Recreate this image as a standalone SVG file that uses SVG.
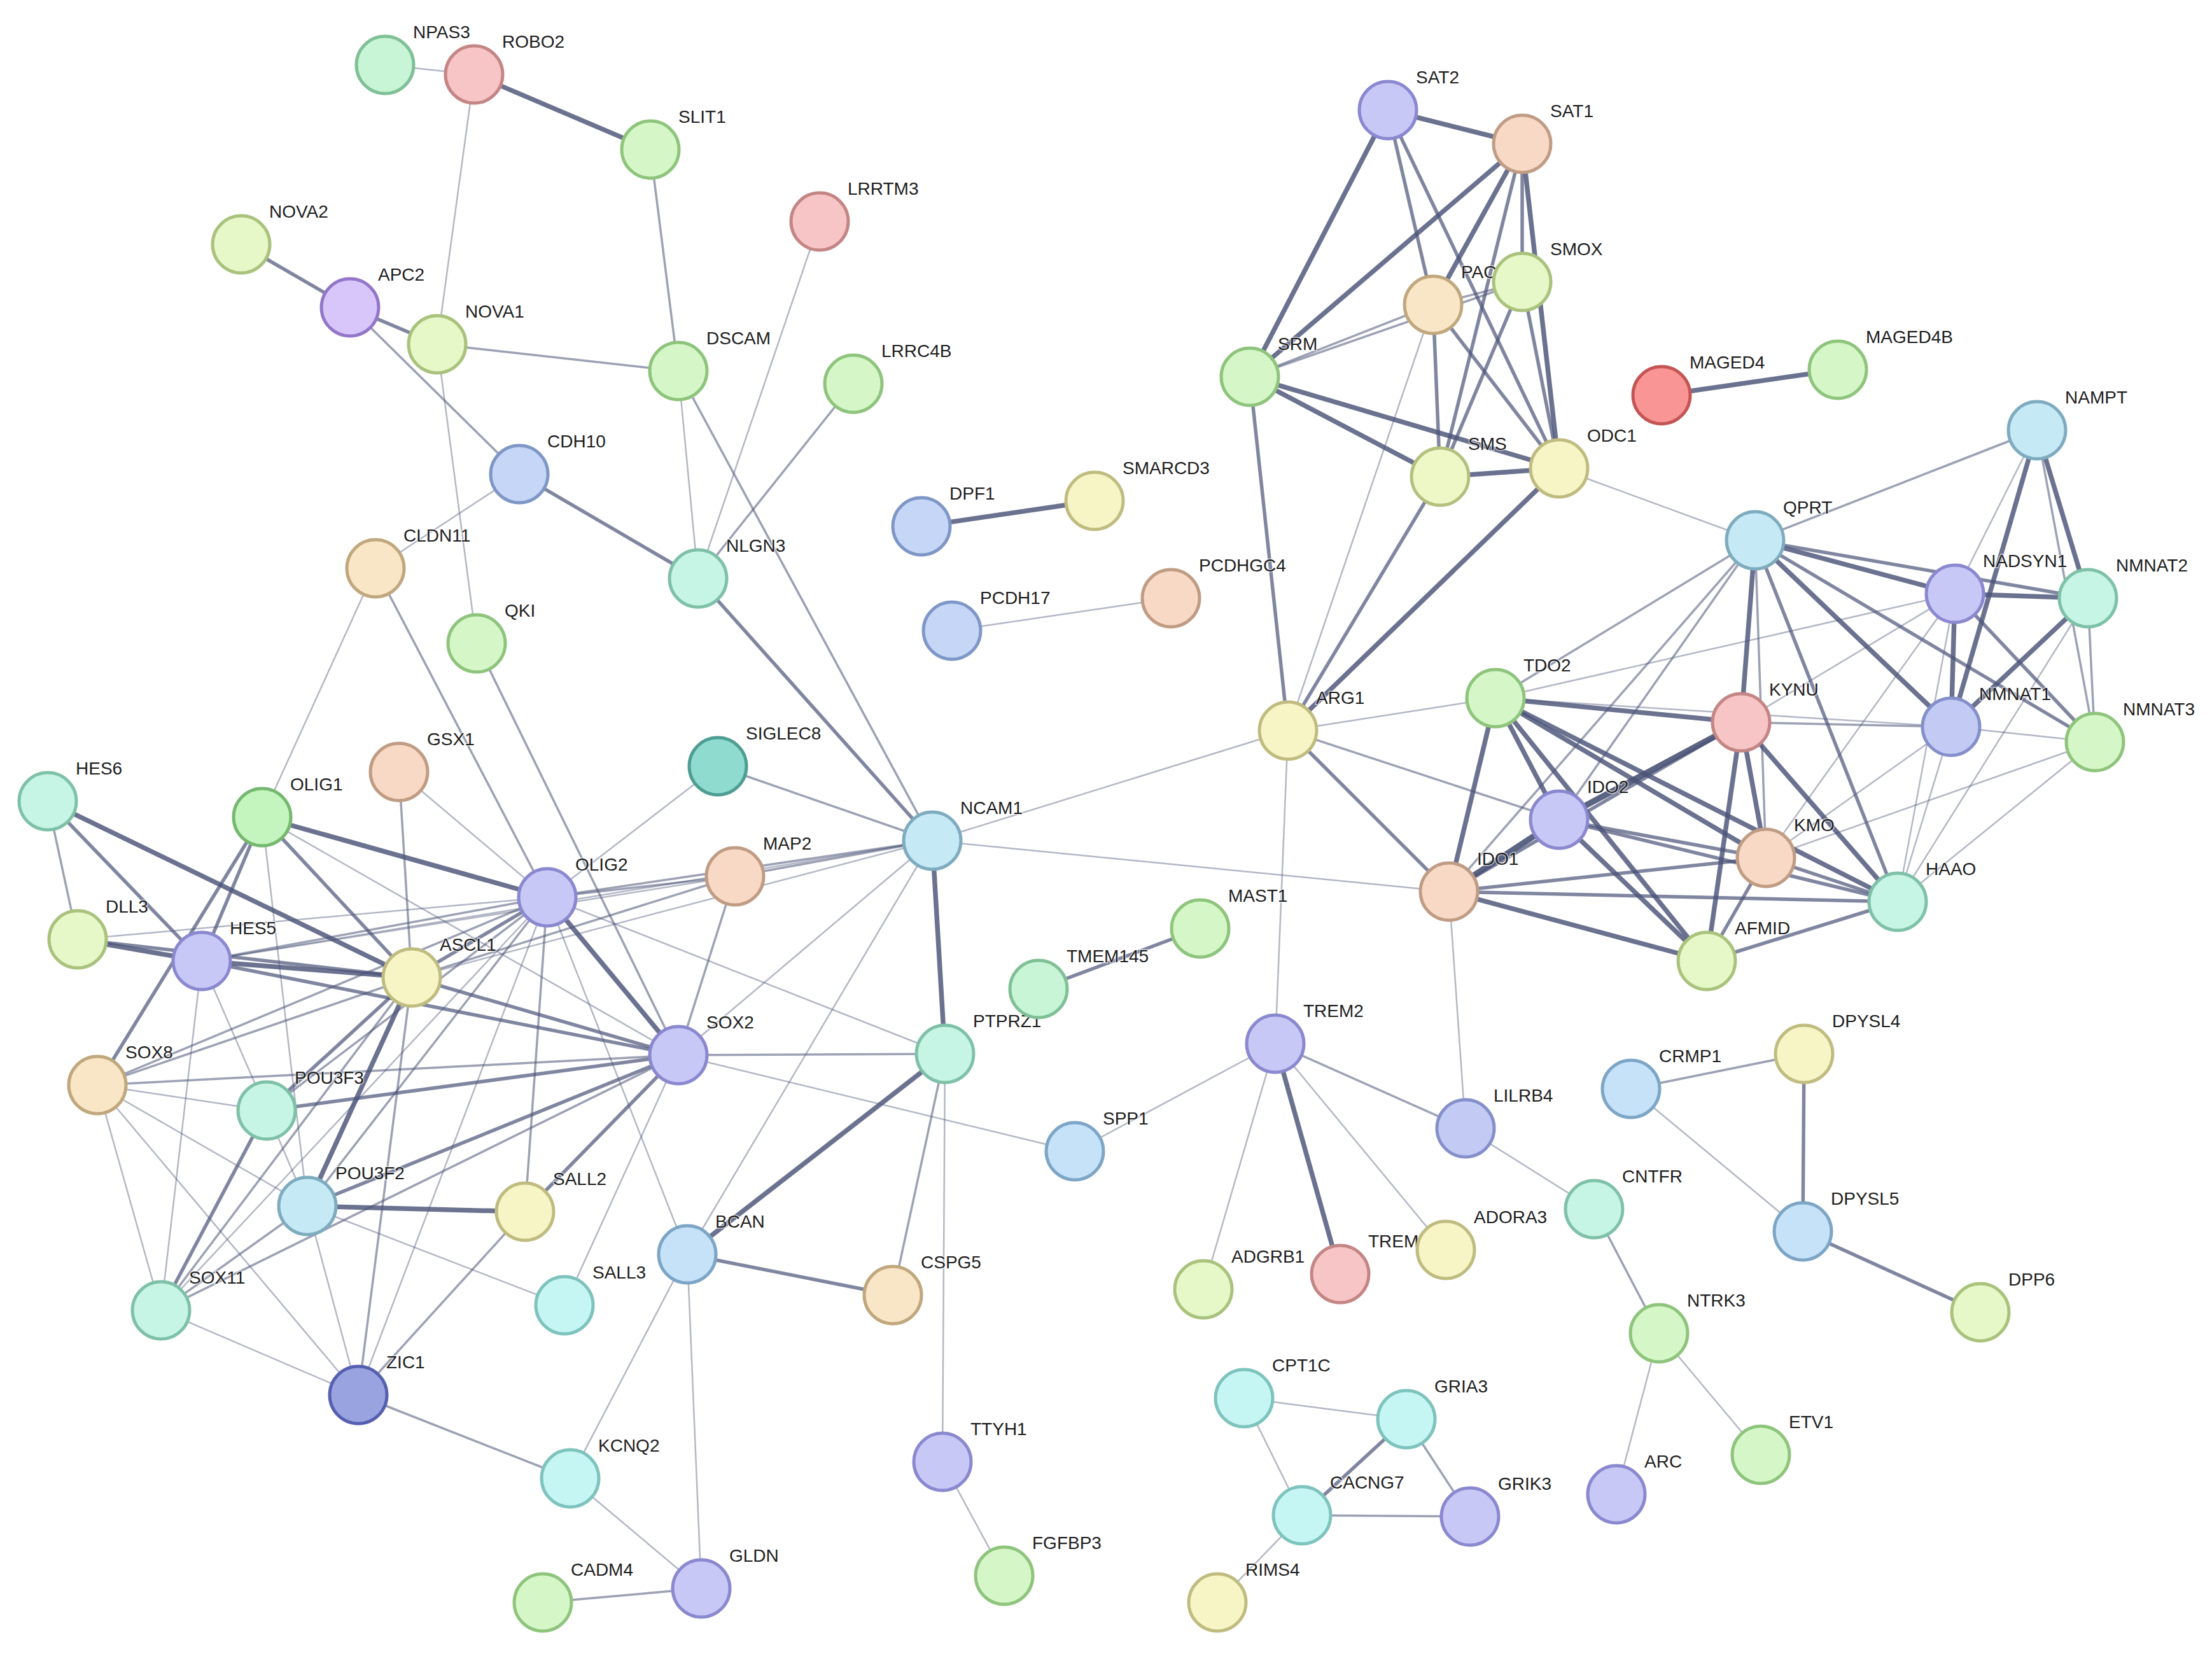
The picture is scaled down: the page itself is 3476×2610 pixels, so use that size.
<svg xmlns="http://www.w3.org/2000/svg" width="3476" height="2610" viewBox="0 0 3476 2610">
<style>
line{stroke:#4a5377;stroke-linecap:round}
.e1{stroke-width:2.5;stroke-opacity:.42}
.e2{stroke-width:3.5;stroke-opacity:.55}
.e3{stroke-width:5.5;stroke-opacity:.7}
.e4{stroke-width:7.5;stroke-opacity:.82}
.e5{stroke-width:9.5;stroke-opacity:.9}
circle{stroke-width:5}
text{font-family:"Liberation Sans",Arial,sans-serif;font-size:28px;fill:#1e1e1e;stroke:#fff;stroke-width:3;stroke-opacity:.6;paint-order:stroke}
.mint{fill:#c7f5d6;stroke:#80c096}
.pink{fill:#f7c5c5;stroke:#c48585}
.lg{fill:#d5f7c8;stroke:#8ec47c}
.og{fill:#c4f5be;stroke:#76b870}
.yg{fill:#e6f7c8;stroke:#a9c27c}
.purple{fill:#d8c6fb;stroke:#9476c9}
.peri{fill:#c8c8f7;stroke:#8a88cf}
.blue{fill:#c6d6f7;stroke:#7f97c6}
.lav{fill:#c3cbf5;stroke:#8590cb}
.peach{fill:#f8e6c6;stroke:#c0a77d}
.salmon{fill:#f8d9c6;stroke:#c09c84}
.teal{fill:#90dbd0;stroke:#4e9d93}
.cyan{fill:#c6e9f6;stroke:#7eacbe}
.aqua{fill:#c6f5e5;stroke:#7fc1a8}
.pcyan{fill:#c6f6f3;stroke:#7ec3bd}
.yellow{fill:#f7f5c6;stroke:#c0bc80}
.sms{fill:#eef7c6;stroke:#b4c07e}
.dblue{fill:#99a3df;stroke:#5660b0}
.lblue{fill:#c6e2f8;stroke:#7da5c6}
.red{fill:#fa9595;stroke:#c45555}
</style>
<rect width="3476" height="2610" fill="#fff"/>
<g id="edges">
<line class="e1" x1="605" y1="102" x2="745" y2="117"/>
<line class="e4" x1="745" y1="117" x2="1022" y2="235"/>
<line class="e1" x1="745" y1="117" x2="687" y2="541"/>
<line class="e2" x1="1022" y1="235" x2="1066" y2="583"/>
<line class="e3" x1="379" y1="384" x2="550" y2="483"/>
<line class="e3" x1="550" y1="483" x2="687" y2="541"/>
<line class="e2" x1="550" y1="483" x2="816" y2="745"/>
<line class="e2" x1="687" y1="541" x2="1066" y2="583"/>
<line class="e1" x1="687" y1="541" x2="749" y2="1011"/>
<line class="e1" x1="1288" y1="348" x2="1097" y2="909"/>
<line class="e1" x1="1066" y1="583" x2="1097" y2="909"/>
<line class="e2" x1="1066" y1="583" x2="1465" y2="1321"/>
<line class="e2" x1="1341" y1="603" x2="1097" y2="909"/>
<line class="e3" x1="816" y1="745" x2="1097" y2="909"/>
<line class="e1" x1="816" y1="745" x2="590" y2="893"/>
<line class="e3" x1="1097" y1="909" x2="1465" y2="1321"/>
<line class="e1" x1="590" y1="893" x2="412" y2="1284"/>
<line class="e2" x1="590" y1="893" x2="860" y2="1410"/>
<line class="e2" x1="749" y1="1011" x2="1066" y2="1658"/>
<line class="e2" x1="75" y1="1259" x2="122" y2="1476"/>
<line class="e3" x1="75" y1="1259" x2="317" y2="1510"/>
<line class="e4" x1="75" y1="1259" x2="647" y2="1536"/>
<line class="e4" x1="412" y1="1284" x2="860" y2="1410"/>
<line class="e3" x1="412" y1="1284" x2="647" y2="1536"/>
<line class="e3" x1="412" y1="1284" x2="317" y2="1510"/>
<line class="e3" x1="412" y1="1284" x2="153" y2="1705"/>
<line class="e1" x1="412" y1="1284" x2="483" y2="1895"/>
<line class="e1" x1="412" y1="1284" x2="1066" y2="1658"/>
<line class="e2" x1="627" y1="1213" x2="647" y2="1536"/>
<line class="e1" x1="627" y1="1213" x2="860" y2="1410"/>
<line class="e1" x1="1128" y1="1204" x2="860" y2="1410"/>
<line class="e2" x1="1128" y1="1204" x2="1465" y2="1321"/>
<line class="e2" x1="860" y1="1410" x2="1155" y2="1377"/>
<line class="e2" x1="860" y1="1410" x2="1465" y2="1321"/>
<line class="e4" x1="860" y1="1410" x2="1066" y2="1658"/>
<line class="e3" x1="860" y1="1410" x2="647" y2="1536"/>
<line class="e2" x1="860" y1="1410" x2="317" y2="1510"/>
<line class="e1" x1="860" y1="1410" x2="122" y2="1476"/>
<line class="e2" x1="860" y1="1410" x2="153" y2="1705"/>
<line class="e2" x1="860" y1="1410" x2="419" y2="1745"/>
<line class="e2" x1="860" y1="1410" x2="483" y2="1895"/>
<line class="e2" x1="860" y1="1410" x2="825" y2="1904"/>
<line class="e1" x1="860" y1="1410" x2="253" y2="2059"/>
<line class="e1" x1="860" y1="1410" x2="563" y2="2192"/>
<line class="e1" x1="860" y1="1410" x2="1080" y2="1971"/>
<line class="e1" x1="860" y1="1410" x2="1485" y2="1656"/>
<line class="e4" x1="122" y1="1476" x2="317" y2="1510"/>
<line class="e3" x1="122" y1="1476" x2="647" y2="1536"/>
<line class="e4" x1="317" y1="1510" x2="647" y2="1536"/>
<line class="e3" x1="317" y1="1510" x2="1066" y2="1658"/>
<line class="e1" x1="317" y1="1510" x2="419" y2="1745"/>
<line class="e1" x1="317" y1="1510" x2="253" y2="2059"/>
<line class="e1" x1="317" y1="1510" x2="1155" y2="1377"/>
<line class="e1" x1="317" y1="1510" x2="1465" y2="1321"/>
<line class="e3" x1="647" y1="1536" x2="1066" y2="1658"/>
<line class="e2" x1="647" y1="1536" x2="1155" y2="1377"/>
<line class="e1" x1="647" y1="1536" x2="1465" y2="1321"/>
<line class="e2" x1="647" y1="1536" x2="153" y2="1705"/>
<line class="e3" x1="647" y1="1536" x2="419" y2="1745"/>
<line class="e4" x1="647" y1="1536" x2="483" y2="1895"/>
<line class="e2" x1="647" y1="1536" x2="253" y2="2059"/>
<line class="e2" x1="647" y1="1536" x2="563" y2="2192"/>
<line class="e2" x1="1155" y1="1377" x2="1066" y2="1658"/>
<line class="e2" x1="1155" y1="1377" x2="1465" y2="1321"/>
<line class="e1" x1="1066" y1="1658" x2="1465" y2="1321"/>
<line class="e2" x1="1066" y1="1658" x2="1485" y2="1656"/>
<line class="e1" x1="1066" y1="1658" x2="1689" y2="1809"/>
<line class="e2" x1="1066" y1="1658" x2="153" y2="1705"/>
<line class="e3" x1="1066" y1="1658" x2="419" y2="1745"/>
<line class="e3" x1="1066" y1="1658" x2="483" y2="1895"/>
<line class="e3" x1="1066" y1="1658" x2="825" y2="1904"/>
<line class="e2" x1="1066" y1="1658" x2="253" y2="2059"/>
<line class="e1" x1="1066" y1="1658" x2="887" y2="2051"/>
<line class="e1" x1="153" y1="1705" x2="419" y2="1745"/>
<line class="e1" x1="153" y1="1705" x2="253" y2="2059"/>
<line class="e1" x1="153" y1="1705" x2="483" y2="1895"/>
<line class="e1" x1="153" y1="1705" x2="563" y2="2192"/>
<line class="e3" x1="419" y1="1745" x2="253" y2="2059"/>
<line class="e1" x1="419" y1="1745" x2="483" y2="1895"/>
<line class="e4" x1="483" y1="1895" x2="825" y2="1904"/>
<line class="e2" x1="483" y1="1895" x2="253" y2="2059"/>
<line class="e1" x1="483" y1="1895" x2="887" y2="2051"/>
<line class="e1" x1="483" y1="1895" x2="563" y2="2192"/>
<line class="e2" x1="825" y1="1904" x2="563" y2="2192"/>
<line class="e1" x1="253" y1="2059" x2="563" y2="2192"/>
<line class="e2" x1="563" y1="2192" x2="896" y2="2323"/>
<line class="e4" x1="1465" y1="1321" x2="1485" y2="1656"/>
<line class="e1" x1="1465" y1="1321" x2="2024" y2="1148"/>
<line class="e1" x1="1465" y1="1321" x2="2277" y2="1401"/>
<line class="e1" x1="1465" y1="1321" x2="1080" y2="1971"/>
<line class="e4" x1="1485" y1="1656" x2="1080" y2="1971"/>
<line class="e2" x1="1485" y1="1656" x2="1403" y2="2035"/>
<line class="e1" x1="1485" y1="1656" x2="1481" y2="2297"/>
<line class="e3" x1="1080" y1="1971" x2="1403" y2="2035"/>
<line class="e1" x1="1080" y1="1971" x2="896" y2="2323"/>
<line class="e1" x1="1080" y1="1971" x2="1102" y2="2496"/>
<line class="e1" x1="896" y1="2323" x2="1102" y2="2496"/>
<line class="e2" x1="853" y1="2518" x2="1102" y2="2496"/>
<line class="e1" x1="1481" y1="2297" x2="1578" y2="2476"/>
<line class="e3" x1="1632" y1="1554" x2="1886" y2="1459"/>
<line class="e4" x1="1448" y1="827" x2="1720" y2="787"/>
<line class="e1" x1="1496" y1="991" x2="1840" y2="940"/>
<line class="e4" x1="2611" y1="621" x2="2888" y2="581"/>
<line class="e1" x1="2024" y1="1148" x2="2004" y2="1640"/>
<line class="e1" x1="2024" y1="1148" x2="2350" y2="1097"/>
<line class="e2" x1="2024" y1="1148" x2="2450" y2="1288"/>
<line class="e3" x1="2024" y1="1148" x2="2277" y2="1401"/>
<line class="e3" x1="2024" y1="1148" x2="1964" y2="592"/>
<line class="e1" x1="2024" y1="1148" x2="2252" y2="479"/>
<line class="e3" x1="2024" y1="1148" x2="2263" y2="749"/>
<line class="e4" x1="2024" y1="1148" x2="2450" y2="736"/>
<line class="e1" x1="2277" y1="1401" x2="2303" y2="1773"/>
<line class="e1" x1="2004" y1="1640" x2="1689" y2="1809"/>
<line class="e1" x1="2004" y1="1640" x2="1891" y2="2026"/>
<line class="e4" x1="2004" y1="1640" x2="2106" y2="2002"/>
<line class="e1" x1="2004" y1="1640" x2="2272" y2="1964"/>
<line class="e2" x1="2004" y1="1640" x2="2303" y2="1773"/>
<line class="e1" x1="2303" y1="1773" x2="2505" y2="1900"/>
<line class="e2" x1="2505" y1="1900" x2="2607" y2="2095"/>
<line class="e1" x1="2607" y1="2095" x2="2540" y2="2348"/>
<line class="e1" x1="2607" y1="2095" x2="2767" y2="2286"/>
<line class="e2" x1="2563" y1="1711" x2="2835" y2="1656"/>
<line class="e1" x1="2563" y1="1711" x2="2833" y2="1935"/>
<line class="e3" x1="2835" y1="1656" x2="2833" y2="1935"/>
<line class="e3" x1="2833" y1="1935" x2="3112" y2="2062"/>
<line class="e1" x1="1955" y1="2197" x2="2210" y2="2230"/>
<line class="e1" x1="1955" y1="2197" x2="2046" y2="2381"/>
<line class="e3" x1="2210" y1="2230" x2="2046" y2="2381"/>
<line class="e2" x1="2210" y1="2230" x2="2310" y2="2383"/>
<line class="e2" x1="2046" y1="2381" x2="2310" y2="2383"/>
<line class="e1" x1="2046" y1="2381" x2="1913" y2="2518"/>
<line class="e4" x1="2181" y1="173" x2="2392" y2="226"/>
<line class="e4" x1="2181" y1="173" x2="1964" y2="592"/>
<line class="e3" x1="2181" y1="173" x2="2252" y2="479"/>
<line class="e3" x1="2181" y1="173" x2="2450" y2="736"/>
<line class="e4" x1="2392" y1="226" x2="1964" y2="592"/>
<line class="e4" x1="2392" y1="226" x2="2252" y2="479"/>
<line class="e3" x1="2392" y1="226" x2="2263" y2="749"/>
<line class="e3" x1="2392" y1="226" x2="2392" y2="443"/>
<line class="e4" x1="2392" y1="226" x2="2450" y2="736"/>
<line class="e2" x1="1964" y1="592" x2="2252" y2="479"/>
<line class="e2" x1="1964" y1="592" x2="2392" y2="443"/>
<line class="e4" x1="1964" y1="592" x2="2263" y2="749"/>
<line class="e4" x1="1964" y1="592" x2="2450" y2="736"/>
<line class="e2" x1="2252" y1="479" x2="2392" y2="443"/>
<line class="e3" x1="2252" y1="479" x2="2263" y2="749"/>
<line class="e3" x1="2252" y1="479" x2="2450" y2="736"/>
<line class="e3" x1="2392" y1="443" x2="2263" y2="749"/>
<line class="e3" x1="2392" y1="443" x2="2450" y2="736"/>
<line class="e4" x1="2263" y1="749" x2="2450" y2="736"/>
<line class="e1" x1="2450" y1="736" x2="2758" y2="849"/>
<line class="e2" x1="3201" y1="676" x2="2758" y2="849"/>
<line class="e1" x1="3201" y1="676" x2="3072" y2="933"/>
<line class="e4" x1="3201" y1="676" x2="3066" y2="1142"/>
<line class="e4" x1="3201" y1="676" x2="3281" y2="940"/>
<line class="e2" x1="3201" y1="676" x2="3292" y2="1166"/>
<line class="e4" x1="2758" y1="849" x2="3072" y2="933"/>
<line class="e3" x1="2758" y1="849" x2="3281" y2="940"/>
<line class="e4" x1="2758" y1="849" x2="3066" y2="1142"/>
<line class="e3" x1="2758" y1="849" x2="3292" y2="1166"/>
<line class="e2" x1="2758" y1="849" x2="2350" y2="1097"/>
<line class="e4" x1="2758" y1="849" x2="2736" y2="1135"/>
<line class="e2" x1="2758" y1="849" x2="2450" y2="1288"/>
<line class="e2" x1="2758" y1="849" x2="2277" y2="1401"/>
<line class="e2" x1="2758" y1="849" x2="2775" y2="1348"/>
<line class="e3" x1="2758" y1="849" x2="2982" y2="1417"/>
<line class="e4" x1="3072" y1="933" x2="3281" y2="940"/>
<line class="e4" x1="3072" y1="933" x2="3066" y2="1142"/>
<line class="e3" x1="3072" y1="933" x2="3292" y2="1166"/>
<line class="e1" x1="3072" y1="933" x2="2350" y2="1097"/>
<line class="e1" x1="3072" y1="933" x2="2736" y2="1135"/>
<line class="e1" x1="3072" y1="933" x2="2982" y2="1417"/>
<line class="e1" x1="3072" y1="933" x2="2775" y2="1348"/>
<line class="e4" x1="3281" y1="940" x2="3066" y2="1142"/>
<line class="e1" x1="3281" y1="940" x2="2982" y2="1417"/>
<line class="e2" x1="3281" y1="940" x2="3292" y2="1166"/>
<line class="e1" x1="3066" y1="1142" x2="3292" y2="1166"/>
<line class="e2" x1="3066" y1="1142" x2="2736" y2="1135"/>
<line class="e1" x1="3066" y1="1142" x2="2350" y2="1097"/>
<line class="e1" x1="3066" y1="1142" x2="2982" y2="1417"/>
<line class="e1" x1="3066" y1="1142" x2="2775" y2="1348"/>
<line class="e1" x1="3292" y1="1166" x2="2982" y2="1417"/>
<line class="e1" x1="3292" y1="1166" x2="2775" y2="1348"/>
<line class="e4" x1="2350" y1="1097" x2="2736" y2="1135"/>
<line class="e4" x1="2350" y1="1097" x2="2450" y2="1288"/>
<line class="e4" x1="2350" y1="1097" x2="2277" y2="1401"/>
<line class="e4" x1="2350" y1="1097" x2="2775" y2="1348"/>
<line class="e4" x1="2350" y1="1097" x2="2982" y2="1417"/>
<line class="e4" x1="2350" y1="1097" x2="2682" y2="1510"/>
<line class="e5" x1="2736" y1="1135" x2="2450" y2="1288"/>
<line class="e3" x1="2736" y1="1135" x2="2277" y2="1401"/>
<line class="e4" x1="2736" y1="1135" x2="2775" y2="1348"/>
<line class="e4" x1="2736" y1="1135" x2="2982" y2="1417"/>
<line class="e4" x1="2736" y1="1135" x2="2682" y2="1510"/>
<line class="e5" x1="2450" y1="1288" x2="2277" y2="1401"/>
<line class="e3" x1="2450" y1="1288" x2="2775" y2="1348"/>
<line class="e3" x1="2450" y1="1288" x2="2982" y2="1417"/>
<line class="e4" x1="2450" y1="1288" x2="2682" y2="1510"/>
<line class="e3" x1="2277" y1="1401" x2="2775" y2="1348"/>
<line class="e3" x1="2277" y1="1401" x2="2982" y2="1417"/>
<line class="e4" x1="2277" y1="1401" x2="2682" y2="1510"/>
<line class="e3" x1="2775" y1="1348" x2="2982" y2="1417"/>
<line class="e3" x1="2775" y1="1348" x2="2682" y2="1510"/>
<line class="e3" x1="2982" y1="1417" x2="2682" y2="1510"/>
</g>
<g id="n-NPAS3"><circle class="mint" cx="605" cy="102" r="45"/><text x="649" y="60">NPAS3</text></g>
<g id="n-ROBO2"><circle class="pink" cx="745" cy="117" r="45"/><text x="789" y="75">ROBO2</text></g>
<g id="n-SLIT1"><circle class="lg" cx="1022" cy="235" r="45"/><text x="1066" y="193">SLIT1</text></g>
<g id="n-NOVA2"><circle class="yg" cx="379" cy="384" r="45"/><text x="423" y="342">NOVA2</text></g>
<g id="n-APC2"><circle class="purple" cx="550" cy="483" r="45"/><text x="594" y="441">APC2</text></g>
<g id="n-NOVA1"><circle class="yg" cx="687" cy="541" r="45"/><text x="731" y="499">NOVA1</text></g>
<g id="n-LRRTM3"><circle class="pink" cx="1288" cy="348" r="45"/><text x="1332" y="306">LRRTM3</text></g>
<g id="n-DSCAM"><circle class="lg" cx="1066" cy="583" r="45"/><text x="1110" y="541">DSCAM</text></g>
<g id="n-LRRC4B"><circle class="lg" cx="1341" cy="603" r="45"/><text x="1385" y="561">LRRC4B</text></g>
<g id="n-CDH10"><circle class="blue" cx="816" cy="745" r="45"/><text x="860" y="703">CDH10</text></g>
<g id="n-CLDN11"><circle class="peach" cx="590" cy="893" r="45"/><text x="634" y="851">CLDN11</text></g>
<g id="n-NLGN3"><circle class="aqua" cx="1097" cy="909" r="45"/><text x="1141" y="867">NLGN3</text></g>
<g id="n-QKI"><circle class="lg" cx="749" cy="1011" r="45"/><text x="793" y="969">QKI</text></g>
<g id="n-DPF1"><circle class="blue" cx="1448" cy="827" r="45"/><text x="1492" y="785">DPF1</text></g>
<g id="n-SMARCD3"><circle class="yellow" cx="1720" cy="787" r="45"/><text x="1764" y="745">SMARCD3</text></g>
<g id="n-PCDH17"><circle class="blue" cx="1496" cy="991" r="45"/><text x="1540" y="949">PCDH17</text></g>
<g id="n-PCDHGC4"><circle class="salmon" cx="1840" cy="940" r="45"/><text x="1884" y="898">PCDHGC4</text></g>
<g id="n-SIGLEC8"><circle class="teal" cx="1128" cy="1204" r="45"/><text x="1172" y="1162">SIGLEC8</text></g>
<g id="n-GSX1"><circle class="salmon" cx="627" cy="1213" r="45"/><text x="671" y="1171">GSX1</text></g>
<g id="n-HES6"><circle class="aqua" cx="75" cy="1259" r="45"/><text x="119" y="1217">HES6</text></g>
<g id="n-OLIG1"><circle class="og" cx="412" cy="1284" r="45"/><text x="456" y="1242">OLIG1</text></g>
<g id="n-NCAM1"><circle class="cyan" cx="1465" cy="1321" r="45"/><text x="1509" y="1279">NCAM1</text></g>
<g id="n-MAP2"><circle class="salmon" cx="1155" cy="1377" r="45"/><text x="1199" y="1335">MAP2</text></g>
<g id="n-OLIG2"><circle class="peri" cx="860" cy="1410" r="45"/><text x="904" y="1368">OLIG2</text></g>
<g id="n-DLL3"><circle class="yg" cx="122" cy="1476" r="45"/><text x="166" y="1434">DLL3</text></g>
<g id="n-HES5"><circle class="peri" cx="317" cy="1510" r="45"/><text x="361" y="1468">HES5</text></g>
<g id="n-ASCL1"><circle class="yellow" cx="647" cy="1536" r="45"/><text x="691" y="1494">ASCL1</text></g>
<g id="n-SOX2"><circle class="peri" cx="1066" cy="1658" r="45"/><text x="1110" y="1616">SOX2</text></g>
<g id="n-PTPRZ1"><circle class="aqua" cx="1485" cy="1656" r="45"/><text x="1529" y="1614">PTPRZ1</text></g>
<g id="n-TMEM145"><circle class="mint" cx="1632" cy="1554" r="45"/><text x="1676" y="1512">TMEM145</text></g>
<g id="n-MAST1"><circle class="lg" cx="1886" cy="1459" r="45"/><text x="1930" y="1417">MAST1</text></g>
<g id="n-SOX8"><circle class="peach" cx="153" cy="1705" r="45"/><text x="197" y="1663">SOX8</text></g>
<g id="n-POU3F3"><circle class="aqua" cx="419" cy="1745" r="45"/><text x="463" y="1703">POU3F3</text></g>
<g id="n-POU3F2"><circle class="cyan" cx="483" cy="1895" r="45"/><text x="527" y="1853">POU3F2</text></g>
<g id="n-SALL2"><circle class="yellow" cx="825" cy="1904" r="45"/><text x="869" y="1862">SALL2</text></g>
<g id="n-SPP1"><circle class="lblue" cx="1689" cy="1809" r="45"/><text x="1733" y="1767">SPP1</text></g>
<g id="n-BCAN"><circle class="lblue" cx="1080" cy="1971" r="45"/><text x="1124" y="1929">BCAN</text></g>
<g id="n-CSPG5"><circle class="peach" cx="1403" cy="2035" r="45"/><text x="1447" y="1993">CSPG5</text></g>
<g id="n-SALL3"><circle class="pcyan" cx="887" cy="2051" r="45"/><text x="931" y="2009">SALL3</text></g>
<g id="n-SOX11"><circle class="aqua" cx="253" cy="2059" r="45"/><text x="297" y="2017">SOX11</text></g>
<g id="n-ZIC1"><circle class="dblue" cx="563" cy="2192" r="45"/><text x="607" y="2150">ZIC1</text></g>
<g id="n-KCNQ2"><circle class="pcyan" cx="896" cy="2323" r="45"/><text x="940" y="2281">KCNQ2</text></g>
<g id="n-TTYH1"><circle class="peri" cx="1481" cy="2297" r="45"/><text x="1525" y="2255">TTYH1</text></g>
<g id="n-FGFBP3"><circle class="lg" cx="1578" cy="2476" r="45"/><text x="1622" y="2434">FGFBP3</text></g>
<g id="n-CADM4"><circle class="lg" cx="853" cy="2518" r="45"/><text x="897" y="2476">CADM4</text></g>
<g id="n-GLDN"><circle class="peri" cx="1102" cy="2496" r="45"/><text x="1146" y="2454">GLDN</text></g>
<g id="n-TREM2"><circle class="peri" cx="2004" cy="1640" r="45"/><text x="2048" y="1598">TREM2</text></g>
<g id="n-LILRB4"><circle class="lav" cx="2303" cy="1773" r="45"/><text x="2347" y="1731">LILRB4</text></g>
<g id="n-ADGRB1"><circle class="yg" cx="1891" cy="2026" r="45"/><text x="1935" y="1984">ADGRB1</text></g>
<g id="n-TREM1"><circle class="pink" cx="2106" cy="2002" r="45"/><text x="2150" y="1960">TREM1</text></g>
<g id="n-ADORA3"><circle class="yellow" cx="2272" cy="1964" r="45"/><text x="2316" y="1922">ADORA3</text></g>
<g id="n-CNTFR"><circle class="aqua" cx="2505" cy="1900" r="45"/><text x="2549" y="1858">CNTFR</text></g>
<g id="n-NTRK3"><circle class="lg" cx="2607" cy="2095" r="45"/><text x="2651" y="2053">NTRK3</text></g>
<g id="n-ETV1"><circle class="lg" cx="2767" cy="2286" r="45"/><text x="2811" y="2244">ETV1</text></g>
<g id="n-ARC"><circle class="peri" cx="2540" cy="2348" r="45"/><text x="2584" y="2306">ARC</text></g>
<g id="n-CRMP1"><circle class="lblue" cx="2563" cy="1711" r="45"/><text x="2607" y="1669">CRMP1</text></g>
<g id="n-DPYSL4"><circle class="yellow" cx="2835" cy="1656" r="45"/><text x="2879" y="1614">DPYSL4</text></g>
<g id="n-DPYSL5"><circle class="lblue" cx="2833" cy="1935" r="45"/><text x="2877" y="1893">DPYSL5</text></g>
<g id="n-DPP6"><circle class="yg" cx="3112" cy="2062" r="45"/><text x="3156" y="2020">DPP6</text></g>
<g id="n-CPT1C"><circle class="pcyan" cx="1955" cy="2197" r="45"/><text x="1999" y="2155">CPT1C</text></g>
<g id="n-GRIA3"><circle class="pcyan" cx="2210" cy="2230" r="45"/><text x="2254" y="2188">GRIA3</text></g>
<g id="n-CACNG7"><circle class="pcyan" cx="2046" cy="2381" r="45"/><text x="2090" y="2339">CACNG7</text></g>
<g id="n-GRIK3"><circle class="peri" cx="2310" cy="2383" r="45"/><text x="2354" y="2341">GRIK3</text></g>
<g id="n-RIMS4"><circle class="yellow" cx="1913" cy="2518" r="45"/><text x="1957" y="2476">RIMS4</text></g>
<g id="n-SAT2"><circle class="peri" cx="2181" cy="173" r="45"/><text x="2225" y="131">SAT2</text></g>
<g id="n-SAT1"><circle class="salmon" cx="2392" cy="226" r="45"/><text x="2436" y="184">SAT1</text></g>
<g id="n-PAOX"><circle class="peach" cx="2252" cy="479" r="45"/><text x="2296" y="437">PAOX</text></g>
<g id="n-SMOX"><circle class="yg" cx="2392" cy="443" r="45"/><text x="2436" y="401">SMOX</text></g>
<g id="n-SRM"><circle class="lg" cx="1964" cy="592" r="45"/><text x="2008" y="550">SRM</text></g>
<g id="n-SMS"><circle class="sms" cx="2263" cy="749" r="45"/><text x="2307" y="707">SMS</text></g>
<g id="n-ODC1"><circle class="yellow" cx="2450" cy="736" r="45"/><text x="2494" y="694">ODC1</text></g>
<g id="n-MAGED4"><circle class="red" cx="2611" cy="621" r="45"/><text x="2655" y="579">MAGED4</text></g>
<g id="n-MAGED4B"><circle class="lg" cx="2888" cy="581" r="45"/><text x="2932" y="539">MAGED4B</text></g>
<g id="n-NAMPT"><circle class="cyan" cx="3201" cy="676" r="45"/><text x="3245" y="634">NAMPT</text></g>
<g id="n-QPRT"><circle class="cyan" cx="2758" cy="849" r="45"/><text x="2802" y="807">QPRT</text></g>
<g id="n-NADSYN1"><circle class="peri" cx="3072" cy="933" r="45"/><text x="3116" y="891">NADSYN1</text></g>
<g id="n-NMNAT2"><circle class="aqua" cx="3281" cy="940" r="45"/><text x="3325" y="898">NMNAT2</text></g>
<g id="n-TDO2"><circle class="lg" cx="2350" cy="1097" r="45"/><text x="2394" y="1055">TDO2</text></g>
<g id="n-KYNU"><circle class="pink" cx="2736" cy="1135" r="45"/><text x="2780" y="1093">KYNU</text></g>
<g id="n-NMNAT1"><circle class="lav" cx="3066" cy="1142" r="45"/><text x="3110" y="1100">NMNAT1</text></g>
<g id="n-NMNAT3"><circle class="lg" cx="3292" cy="1166" r="45"/><text x="3336" y="1124">NMNAT3</text></g>
<g id="n-ARG1"><circle class="yellow" cx="2024" cy="1148" r="45"/><text x="2068" y="1106">ARG1</text></g>
<g id="n-IDO2"><circle class="peri" cx="2450" cy="1288" r="45"/><text x="2494" y="1246">IDO2</text></g>
<g id="n-KMO"><circle class="salmon" cx="2775" cy="1348" r="45"/><text x="2819" y="1306">KMO</text></g>
<g id="n-IDO1"><circle class="salmon" cx="2277" cy="1401" r="45"/><text x="2321" y="1359">IDO1</text></g>
<g id="n-HAAO"><circle class="aqua" cx="2982" cy="1417" r="45"/><text x="3026" y="1375">HAAO</text></g>
<g id="n-AFMID"><circle class="yg" cx="2682" cy="1510" r="45"/><text x="2726" y="1468">AFMID</text></g>
</svg>
